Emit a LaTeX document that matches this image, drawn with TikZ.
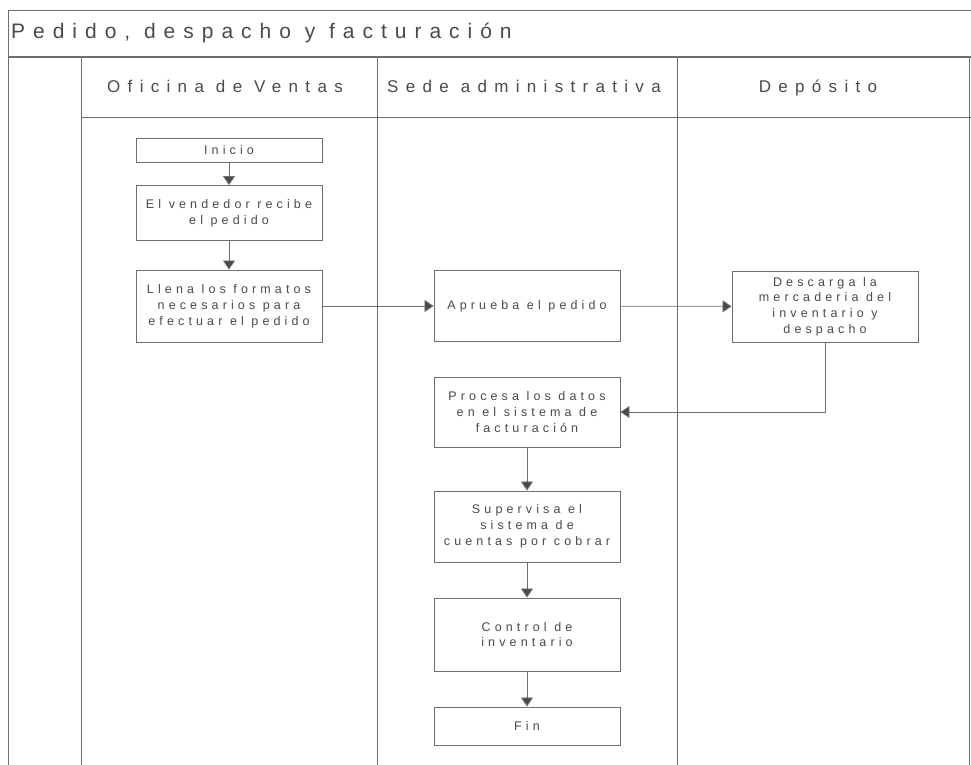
\documentclass[tikz,border=0pt]{standalone}
\usepackage{fontspec}
\setmainfont{Liberation Sans}
\newfontfamily\titlefont{Liberation Sans}[LetterSpace=38]
\newfontfamily\headfont{Liberation Sans}[LetterSpace=43]
\newfontfamily\boxfont{Liberation Sans}[LetterSpace=33]
\usetikzlibrary{arrows.meta}
\definecolor{lanegray}{HTML}{6E6E6E}
\definecolor{inkgray}{HTML}{4A4A4A}
\begin{document}
\begin{tikzpicture}[x=1pt,y=-1pt,
  frame/.style={draw=lanegray,line width=0.9pt},
  procbox/.style={draw=lanegray,line width=0.9pt,fill=white,minimum width=186pt,
    inner sep=0pt,align=center,text=inkgray,
    font=\boxfont\fontsize{12.5}{15.8}\selectfont},
  flow/.style={draw=lanegray,line width=0.8pt,
    -{Triangle[width=12pt,length=9pt,fill=inkgray]}},
  lanehead/.style={anchor=base,text=inkgray,font=\headfont\fontsize{17}{19}\selectfont}]
\useasboundingbox (0,0) rectangle (971,765);
\fill[white] (0,0) rectangle (971,765);

% pool frame, title band and lanes
\draw[frame] (971,10) -- (8,10) -- (8,765);
\draw[frame,line width=1.3pt] (8,57) -- (971,57);
\draw[frame] (81,57) -- (81,765);
\draw[frame] (81,117) -- (971,117);
\draw[frame] (377,57) -- (377,765);
\draw[frame] (677,57) -- (677,765);
\draw[frame] (969,57) -- (969,765);

\node[anchor=base west,inner sep=0pt,text=inkgray,
  font=\titlefont\fontsize{21}{24}\selectfont] (title) at (11,39)
  {Pedido, despacho y facturación};

\node[lanehead] (lane1) at (225,93) {Oficina de Ventas};
\node[lanehead] (lane2) at (524,93) {Sede administrativa};
\node[lanehead] (lane3) at (818,93) {Depósito};

% process steps
\node[procbox,minimum height=24pt] (ini) at (229,150) {Inicio};
\node[procbox,minimum height=55pt] (ven) at (229,213) {El vendedor recibe\\el pedido};
\node[procbox,minimum height=72pt] (lle) at (229,306) {Llena los formatos\\necesarios para\\efectuar el pedido};
\node[procbox,minimum height=71pt] (apr) at (527,306) {Aprueba el pedido};
\node[procbox,minimum height=71pt] (des) at (825,306.5) {Descarga la\\mercaderia del\\inventario y\\despacho};
\node[procbox,minimum height=70pt] (pro) at (527,412) {Procesa los datos\\en el sistema de\\facturación};
\node[procbox,minimum height=71pt] (sup) at (527,526.5) {Supervisa el\\sistema de\\cuentas por cobrar};
\node[procbox,minimum height=73pt] (con) at (527,634.5) {Control de\\inventario};
\node[procbox,minimum height=38pt] (fin) at (527,726) {Fin};

% connectors
\draw[flow] (ini) -- (ven);
\draw[flow] (ven) -- (lle);
\draw[flow] (lle) -- (apr);
\draw[flow] (apr) -- (des);
\draw[flow] (des.south) |- (pro.east);
\draw[flow] (pro) -- (sup);
\draw[flow] (sup) -- (con);
\draw[flow] (con) -- (fin);
\end{tikzpicture}
\end{document}
